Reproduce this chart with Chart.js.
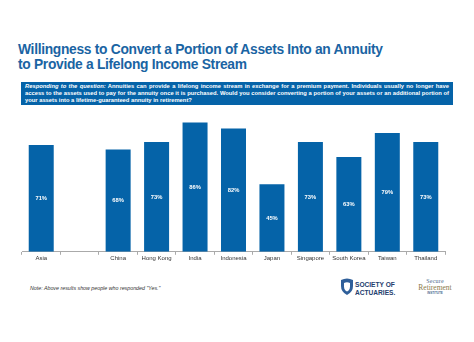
<!DOCTYPE html>
<html>
<head>
<meta charset="utf-8">
<script src="https://cdn.jsdelivr.net/npm/chart.js@4.4.0/dist/chart.umd.min.js"></script>
<style>
  html, body { margin: 0; padding: 0; background: #fff; }
  body { width: 474px; height: 342px; position: relative; overflow: hidden; font-family: Arial, "Liberation Sans", sans-serif; }
  #title { position: absolute; left: 18px; top: 42px; color: #1a64a3; font-weight: bold; font-size: 13.8px; line-height: 15px; letter-spacing: -0.3px; white-space: nowrap; }
  #question { position: absolute; left: 21px; top: 82px; width: 424px; height: 21px; padding: 1px 4px 1px 4px; background: #0563a8; color: #fff; font-weight: bold; font-size: 5.8px; line-height: 6.8px; text-align: justify; }
  #question i { font-weight: bold; }
  #chartWrap { position: absolute; left: 0; top: 112px; width: 474px; height: 150px; }
  #note { position: absolute; left: 30px; top: 285px; font-style: italic; font-size: 5.3px; color: #333; white-space: nowrap; }
  #soa { position: absolute; left: 340px; top: 278px; }
  #soa .txt { position: absolute; left: 15px; top: 3px; font-weight: bold; font-size: 6.6px; line-height: 7.5px; color: #24406e; white-space: nowrap; }
  #sri { position: absolute; left: 414px; top: 278px; width: 42px; text-align: center; font-family: "Liberation Serif", "DejaVu Serif", serif; color: #4c6b8f; }
  #sri .l1 { font-size: 6px; line-height: 6px; letter-spacing: 0.2px; }
  #sri .l2 { font-size: 7.5px; line-height: 7px; color: #8a7a4a; }
  #sri .l3 { font-family: Arial, sans-serif; font-size: 3px; line-height: 4px; font-weight: bold; color: #4c6b8f; }
</style>
</head>
<body>
<div id="title">Willingness to Convert a Portion of Assets Into an Annuity<br>to Provide a Lifelong Income Stream</div>
<div id="question"><i>Responding to the question:</i> Annuities can provide a lifelong income stream in exchange for a premium payment. Individuals usually no longer have access to the assets used to pay for the annuity once it is purchased. Would you consider converting a portion of your assets or an additional portion of your assets into a lifetime-guaranteed annuity in retirement?</div>
<div id="chartWrap"><canvas id="chart"></canvas></div>
<div id="note">Note: Above results show people who responded "Yes."</div>
<div id="soa">
  <svg width="14" height="18" viewBox="0 0 14 18">
    <path d="M1 2 Q7 -1 13 2 L13 8 Q13 14 7 17 Q1 14 1 8 Z" fill="#2f5f9a"/>
    <path d="M4 5 Q7 3.5 10 5 L10 8.5 Q10 12 7 13.5 Q4 12 4 8.5 Z" fill="#fff"/>
  </svg>
  <div class="txt">SOCIETY OF<br>ACTUARIES.</div>
</div>
<div id="sri">
  <div class="l1">Secure</div>
  <div class="l2">Retirement</div>
  <div class="l3">INSTITUTE</div>
</div>
<script>
const categories = ['Asia', '', 'China', 'Hong Kong', 'India', 'Indonesia', 'Japan', 'Singapore', 'South Korea', 'Taiwan', 'Thailand'];
const willingPct = [71, null, 68, 73, 86, 82, 45, 73, 63, 79, 73];

const barBlue = '#0563a8';

// white % labels centred inside each bar
const insideLabels = {
  id: 'insideLabels',
  afterDatasetsDraw(chart) {
    const ctx = chart.ctx;
    const meta = chart.getDatasetMeta(0);
    ctx.save();
    ctx.fillStyle = '#ffffff';
    ctx.font = 'bold 5.8px Arial';
    ctx.textAlign = 'center';
    ctx.textBaseline = 'middle';
    meta.data.forEach((bar, i) => {
      const v = willingPct[i];
      if (v == null) return;
      ctx.fillText(v + '%', bar.x, (bar.y + bar.base) / 2);
    });
    ctx.restore();
  }
};

new Chart(document.getElementById('chart'), {
  type: 'bar',
  data: {
    labels: categories,
    datasets: [{
      data: willingPct,
      backgroundColor: barBlue,
      barPercentage: 0.65,
      categoryPercentage: 1
    }]
  },
  options: {
    responsive: true,
    maintainAspectRatio: false,
    animation: false,
    layout: { padding: { left: 22, right: 29, top: 0, bottom: 0 } },
    plugins: { legend: { display: false }, tooltip: { enabled: false } },
    scales: {
      x: {
        offset: true,
        grid: { display: true, drawOnChartArea: false, drawTicks: true, tickLength: 3, color: '#aaaaaa', offset: true },
        border: { display: true, color: '#aaaaaa' },
        ticks: { color: '#333333', font: { size: 6, family: 'Arial' }, padding: 0, maxRotation: 0, autoSkip: false }
      },
      y: {
        display: false,
        min: 0,
        max: 93
      }
    }
  },
  plugins: [insideLabels]
});
</script>
</body>
</html>
